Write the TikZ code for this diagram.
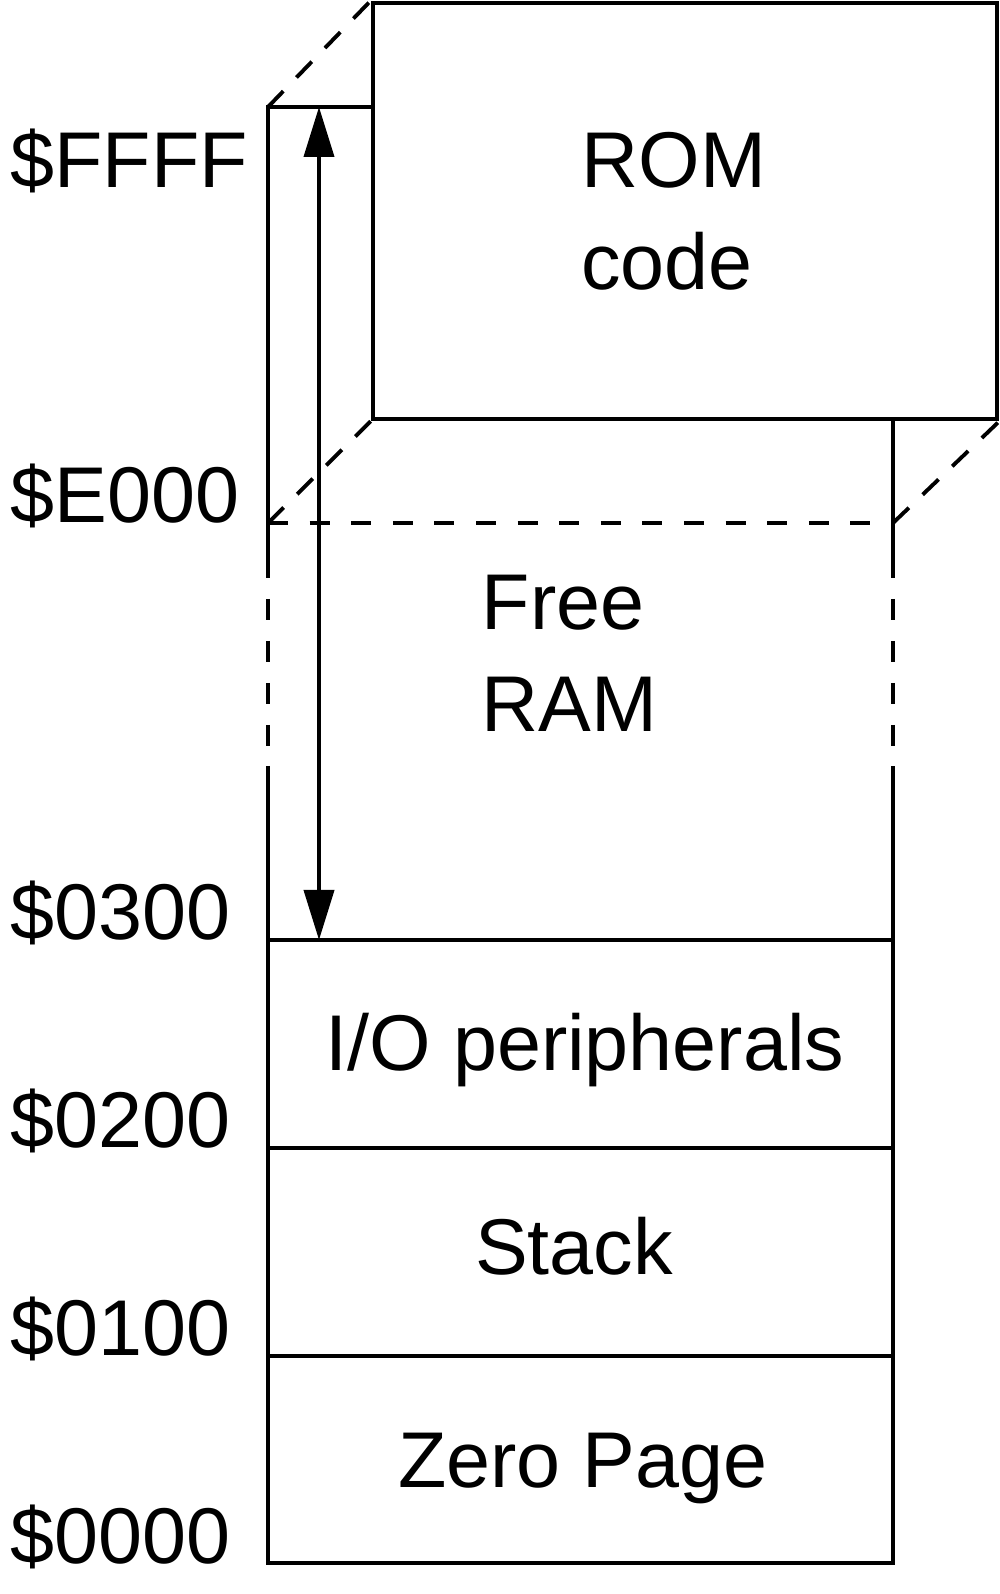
\documentclass[tikz,border=0pt]{standalone}
\usepackage{fontspec}
\setmainfont{Liberation Sans}
\usetikzlibrary{arrows.meta}

\begin{document}
\begin{tikzpicture}[
    x=1cm,
    y=1cm,
    >={Triangle[length=5mm,width=3mm]},
    line join=miter,
    wall/.style={line width=1.3pt},
    tratto/.style={line width=1.3pt,dash pattern=on 0.2cm off 0.216cm},
    obliquo/.style={line width=1.1pt,dash pattern=on 0.22cm off 0.19cm},
    addr/.style={anchor=base west,inner sep=0pt,font=\fontsize{22.5}{27}\selectfont},
    zona/.style={anchor=base,inner sep=0pt,font=\fontsize{22.5}{27}\selectfont}
]

% Parametri
\def\xL{2.68}
\def\xR{8.93}
\def\xA{3.19}
\def\yT{14.87}
\def\yE{10.71}
\def\yC{6.54}
\def\yB{4.46}
\def\yA{2.38}
\def\yZ{0.31}

\useasboundingbox (0,0) rectangle (10,15.94);

% Blocco ROM
\node[wall,draw,minimum width=6.24cm,minimum height=4.16cm,inner sep=0pt]
    (rom) at (6.85,13.83) {};

% Colonna: parte alta
\draw[wall] (rom.west |- 0,\yT) -- (\xL,\yT) -- (\xL,10.16);
\draw[wall] (\xR,11.75) -- (\xR,10.16);

% Linea tratteggiata a E000
\draw[tratto] (\xL,\yE) -- (\xR,\yE);
\draw[wall,dash pattern=on 0.21cm off 0.21cm] (\xL,9.95) -- (\xL,8.48);
\draw[wall,dash pattern=on 0.21cm off 0.21cm] (\xR,9.95) -- (\xR,8.48);

% Colonna: parte bassa
\draw[wall] (\xL,8.28) -- (\xL,\yZ) -- (\xR,\yZ) -- (\xR,8.28);
\foreach \yy in {\yC,\yB,\yA}
    \draw[wall] (\xL,\yy) -- (\xR,\yy);

% Spigoli in prospettiva
\draw[obliquo] (\xL,\yT) -- (rom.north west);
\draw[obliquo] (\xL,\yE) -- (rom.south west);
\draw[obliquo] (\xR,\yE) -- (rom.south east);

% Freccia
\coordinate (top) at (\xA,\yT);
\coordinate (bot) at (\xA,\yC);
\draw[line width=1.1pt,<->] (top) -- (bot);

% Indirizzi
\node[addr] (aFFFF) at (0.10,14.06) {\$FFFF};
\node[addr] (aE000) at (0.10,\yE) {\$E000};
\node[addr] (a0300) at (0.10,\yC) {\$0300};
\node[addr] (a0200) at (0.10,\yB) {\$0200};
\node[addr] (a0100) at (0.10,\yA) {\$0100};
\node[addr] (a0000) at (0.10,\yZ) {\$0000};

% Testi
\node[zona] (tROM)  at (6.74,14.06) {ROM};
\node[zona] (tcode) at (6.67,13.04) {code};
\node[addr] (tfree) at (4.81,9.64) {Free};
\node[addr] (tram)  at (4.81,8.62) {RAM};
\node[zona] (tio)   at (5.85,5.23) {I/O peripherals};
\node[zona] (tstack) at (5.74,3.19) {Stack};
\node[zona] (tzero) at (5.83,1.06) {Zero Page};

\end{tikzpicture}
\end{document}
